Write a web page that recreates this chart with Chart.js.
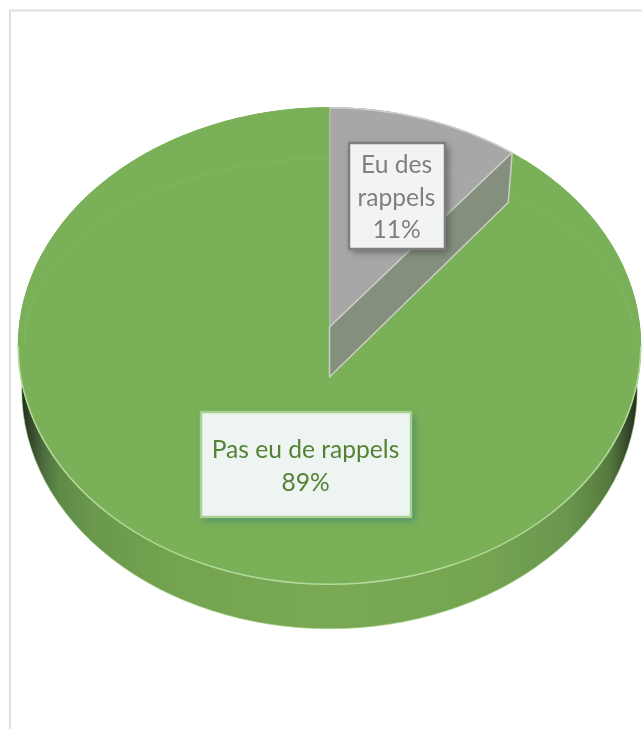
<!DOCTYPE html>
<html>
<head>
<meta charset="utf-8">
<style>
  html, body { margin: 0; padding: 0; background: #fff; overflow: hidden; }
  canvas { display: block; }
</style>
<script src="https://cdn.jsdelivr.net/npm/chart.js@4"></script>
</head>
<body>
<canvas id="myChart" width="642" height="729"></canvas>
<script>
var categories = ['Eu des rappels', 'Pas eu de rappels'];
var values = [11, 89];
var sliceColors = ['#a7a7a7', '#7ab058'];
var labelLines = [['Eu des', 'rappels'], ['Pas eu de rappels']];

var faceTilt = 0.766;    // top face of the disc
var sliceTilt = 0.79;    // wedges look a little steeper than the rim
var depth = 44;
var wallInset = 4;       // far edge of the wall is a bit narrower than the face
var wedgeLift = 24;      // grey wedge sits above the centre
var wedgeDepth = 50;

var labelBoxes = [
    { x: 349, y: 143, w: 96, h: 106, fill: '#f2f4f3', border: '#7f7f7f', text: '#7f7f7f',
      shadow: 'rgba(40,50,40,0.55)', baseline: 173, line: 32.5 },
    { x: 201, y: 412, w: 210, h: 105, fill: '#eef4f2', border: '#a9d18e', text: '#548235',
      shadow: 'rgba(50,120,125,0.7)', baseline: 458, line: 33 }
];

function face(chart) {
    var a = chart.getDatasetMeta(0).data[1];
    return { x: a.x, y: a.y, rx: a.outerRadius, ry: a.outerRadius * faceTilt };
}

// where a ray from (x, y) in direction (dx, dy) leaves the top face
function hitRim(f, x, y, dx, dy) {
    var ax = dx / f.rx, ay = dy / f.ry, bx = (x - f.x) / f.rx, by = (y - f.y) / f.ry;
    var A = ax * ax + ay * ay, B = 2 * (ax * bx + ay * by), C = bx * bx + by * by - 1;
    var t = (-B + Math.sqrt(B * B - 4 * A * C)) / (2 * A);
    return { x: x + dx * t, y: y + dy * t };
}

var tiltedPie = {
    id: 'tiltedPie',
    afterDatasetsUpdate: function (chart) {
        var grey = chart.getDatasetMeta(0).data[0];
        grey.y -= wedgeLift;
        grey.outerRadius += 8;
    },
    beforeDraw: function (chart) {
        var ctx = chart.ctx;
        ctx.save();
        ctx.strokeStyle = '#e0e0e0';
        ctx.lineWidth = 2;
        ctx.beginPath();
        ctx.moveTo(10, 729);
        ctx.lineTo(10, 10.5);
        ctx.lineTo(642, 10.5);
        ctx.stroke();
        ctx.restore();
    },
    beforeDatasetsDraw: function (chart) {
        var ctx = chart.ctx, f = face(chart);
        ctx.save();
        // side wall
        var g = ctx.createLinearGradient(f.x - f.rx, 0, f.x + f.rx, 0);
        g.addColorStop(0, '#1b2415');
        g.addColorStop(0.02, '#33462a');
        g.addColorStop(0.043, '#4f7040');
        g.addColorStop(0.067, '#5f8a47');
        g.addColorStop(0.12, '#6a984c');
        g.addColorStop(0.26, '#74a450');
        g.addColorStop(0.5, '#7aa955');
        g.addColorStop(0.74, '#76a552');
        g.addColorStop(0.88, '#6a974e');
        g.addColorStop(0.95, '#55793f');
        g.addColorStop(0.985, '#2d3d24');
        g.addColorStop(1, '#1b2415');
        ctx.fillStyle = g;
        ctx.beginPath();
        ctx.ellipse(f.x, f.y + depth, f.rx - wallInset, f.ry, 0, 0, Math.PI * 2);
        ctx.fill();
        ctx.strokeStyle = 'rgba(170,215,140,0.6)';
        ctx.lineWidth = 1;
        ctx.beginPath();
        ctx.ellipse(f.x, f.y + depth, f.rx - wallInset, f.ry, 0, 0, Math.PI);
        ctx.stroke();
        // top face, the wedges are clipped to it
        ctx.beginPath();
        ctx.ellipse(f.x, f.y, f.rx, f.ry, 0, 0, Math.PI * 2);
        ctx.fillStyle = sliceColors[1];
        ctx.fill();
        ctx.clip();
        ctx.translate(f.x, f.y);
        ctx.scale(1, sliceTilt);
        ctx.translate(-f.x, -f.y);
    },
    afterDatasetsDraw: function (chart) {
        var ctx = chart.ctx, f = face(chart);
        var grey = chart.getDatasetMeta(0).data[0];
        ctx.restore();
        ctx.save();

        var ax = grey.x, ay = f.y + (grey.y - f.y) * sliceTilt;
        var rim = hitRim(f, ax, ay, Math.cos(grey.endAngle), Math.sin(grey.endAngle) * sliceTilt);

        // faint bevel ring on the top face
        ctx.strokeStyle = 'rgba(190,225,165,0.12)';
        ctx.lineWidth = 1;
        ctx.beginPath();
        ctx.ellipse(f.x, f.y, f.rx - 6, f.ry - 51, 0, Math.PI, Math.PI * 2);
        ctx.stroke();

        // inner wall of the grey wedge
        ctx.fillStyle = '#858f7d';
        ctx.strokeStyle = '#c9cfc5';
        ctx.lineWidth = 1.5;
        ctx.lineJoin = 'round';
        ctx.beginPath();
        ctx.moveTo(ax, ay);
        ctx.lineTo(rim.x, rim.y);
        ctx.lineTo(rim.x - 4, rim.y + wedgeDepth);
        ctx.lineTo(ax, ay + wedgeDepth);
        ctx.closePath();
        ctx.fill();
        ctx.stroke();

        // lit rim along the front of the top face
        ctx.strokeStyle = '#b3d99c';
        ctx.lineWidth = 1.5;
        ctx.beginPath();
        ctx.ellipse(f.x, f.y, f.rx - 0.5, f.ry - 0.5, 0, 0, Math.PI);
        ctx.stroke();

        // rim of the grey wedge
        ctx.strokeStyle = '#cdcdcd';
        ctx.beginPath();
        ctx.ellipse(f.x, f.y, f.rx - 0.5, f.ry - 0.5, 0, -Math.PI / 2, Math.atan2((rim.y - f.y) / f.ry, (rim.x - f.x) / f.rx));
        ctx.stroke();

        // data labels
        labelBoxes.forEach(function (b, i) {
            ctx.save();
            ctx.shadowColor = b.shadow;
            ctx.shadowBlur = 7;
            ctx.shadowOffsetX = 3;
            ctx.shadowOffsetY = 3;
            ctx.fillStyle = b.fill;
            ctx.fillRect(b.x, b.y, b.w, b.h);
            ctx.restore();
            ctx.strokeStyle = b.border;
            ctx.lineWidth = 2.5;
            ctx.strokeRect(b.x, b.y, b.w, b.h);
            ctx.fillStyle = b.text;
            ctx.font = '24.6px Lato';
            ctx.textAlign = 'center';
            ctx.textBaseline = 'alphabetic';
            var lines = labelLines[i].concat([values[i] + '%']);
            lines.forEach(function (t, n) {
                ctx.fillText(t, b.x + b.w / 2 - 0.5, b.baseline + n * b.line);
            });
        });
        ctx.restore();
    }
};

var ctx = document.getElementById('myChart').getContext('2d');
var myChart = new Chart(ctx, {
    type: 'pie',
    data: {
        labels: categories,
        datasets: [{
            data: values,
            backgroundColor: sliceColors,
            borderColor: ['#cdcdcd', sliceColors[1]],
            borderWidth: [1.5, 0]
        }]
    },
    options: {
        responsive: false,
        animation: false,
        events: [],
        layout: { padding: { left: 17, right: -1, top: 33, bottom: 70 } },
        plugins: {
            legend: { display: false },
            tooltip: { enabled: false }
        }
    },
    plugins: [tiltedPie]
});
</script>
</body>
</html>
